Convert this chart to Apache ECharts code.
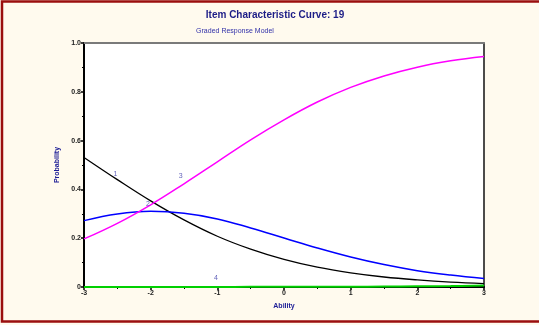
<!DOCTYPE html>
<html>
<head>
<meta charset="utf-8">
<script src="https://cdn.jsdelivr.net/npm/echarts@6/dist/echarts.min.js"></script>
<style>
  html, body { margin: 0; padding: 0; background: #fffaee; }
  #chart { width: 539px; height: 325px; }
</style>
</head>
<body>
<div id="chart"></div>
<script>
// Ability values at which the category probabilities are tabulated
const ability = [-3, -2.5, -2, -1.5, -1, -0.5, 0, 0.5, 1, 1.5, 2, 2.5, 3];

// Category response probabilities (graded response model, item 19)
const cat1 = [0.531, 0.440, 0.353, 0.275, 0.208, 0.155, 0.113, 0.081, 0.058, 0.041, 0.029, 0.020, 0.014];
const cat2 = [0.272, 0.299, 0.310, 0.302, 0.279, 0.242, 0.201, 0.160, 0.123, 0.092, 0.067, 0.049, 0.035];
const cat3 = [0.197, 0.261, 0.337, 0.423, 0.513, 0.603, 0.685, 0.758, 0.818, 0.865, 0.901, 0.927, 0.945];
const cat4 = [0.000, 0.000, 0.000, 0.000, 0.000, 0.001, 0.001, 0.001, 0.001, 0.002, 0.003, 0.004, 0.006];

// Curve tags: [ability, probability, text]
const curveTags = [
  [-2.53, 0.463, '1'],
  [-2.04, 0.338, '2'],
  [-1.55, 0.455, '3'],
  [-1.02, 0.037, '4']
];

const xTicks = [-3, -2, -1, 0, 1, 2, 3];

const FONT = '"Liberation Sans", Arial, sans-serif';
const toPairs = arr => ability.map((a, i) => [a, arr[i]]);

const chart = echarts.init(document.getElementById('chart'), null, { renderer: 'canvas' });

const lineSeries = (data, color, width) => ({
  type: 'line',
  data: toPairs(data),
  smooth: 0.4,
  showSymbol: false,
  symbol: 'none',
  lineStyle: { color: color, width: width },
  z: 3
});

chart.setOption({
  backgroundColor: '#fffaee',
  animation: false,
  title: [
    {
      text: 'Item Characteristic Curve: 19',
      left: 270, top: 5, textAlign: 'center',
      textStyle: { fontFamily: FONT, fontSize: 10, fontWeight: 'bold', color: '#1c1c86' }
    },
    {
      text: 'Graded Response Model',
      left: 230, top: 23, textAlign: 'center',
      textStyle: { fontFamily: FONT, fontSize: 7, fontWeight: 'normal', color: '#3030a8' }
    }
  ],
  graphic: [
    {
      type: 'rect',
      shape: { x: 2, y: 1.5, width: 620, height: 320 },
      style: { fill: null, stroke: '#9a0e0e', lineWidth: 2.5 },
      silent: true, z: 100
    }
  ],
  grid: {
    left: 84, top: 43, right: 55, bottom: 38,
    show: true, backgroundColor: '#ffffff', borderWidth: 0
  },
  xAxis: [
    {
      type: 'value', min: -3, max: 3, interval: 1,
      name: 'Ability', nameLocation: 'middle', nameGap: 16,
      nameTextStyle: { fontFamily: FONT, fontSize: 7, fontWeight: 'bold', color: '#1c1c96' },
      axisLine: { show: true, onZero: false, lineStyle: { color: '#000', width: 2 } },
      axisTick: { show: true, length: 3, lineStyle: { color: '#000', width: 1.5 } },
      minorTick: { show: true, splitNumber: 2, length: 2, lineStyle: { color: '#000', width: 1 } },
      splitLine: { show: false },
      axisLabel: {
        fontFamily: FONT, fontSize: 7, fontWeight: 'bold', color: '#222', margin: 3,
        formatter: v => (xTicks.indexOf(v) >= 0 ? String(v) : '')
      }
    },
    {
      type: 'value', position: 'top', min: -3, max: 3,
      axisLine: { show: true, onZero: false, lineStyle: { color: '#7a7a7a', width: 2 } },
      axisTick: { show: false }, axisLabel: { show: false }, splitLine: { show: false }
    }
  ],
  yAxis: [
    {
      type: 'value', min: 0, max: 1, interval: 0.2,
      name: 'Probability', nameLocation: 'middle', nameGap: 18, nameRotate: 90,
      nameTextStyle: { fontFamily: FONT, fontSize: 7, fontWeight: 'bold', color: '#1c1c96' },
      axisLine: { show: true, onZero: false, lineStyle: { color: '#000', width: 2 } },
      axisTick: { show: true, length: 3, lineStyle: { color: '#000', width: 1.5 } },
      minorTick: { show: true, splitNumber: 2, length: 2, lineStyle: { color: '#000', width: 1 } },
      splitLine: { show: false },
      axisLabel: {
        fontFamily: FONT, fontSize: 7, fontWeight: 'bold', color: '#222', margin: 3,
        formatter: v => (v === 0 ? '0' : v.toFixed(1))
      }
    },
    {
      type: 'value', position: 'right', min: 0, max: 1,
      axisLine: { show: true, onZero: false, lineStyle: { color: '#111', width: 1.5 } },
      axisTick: { show: false }, axisLabel: { show: false }, splitLine: { show: false }
    }
  ],
  series: [
    lineSeries(cat4, '#00d000', 2),
    lineSeries(cat1, '#000000', 1.3),
    lineSeries(cat2, '#0000ff', 1.5),
    lineSeries(cat3, '#ff00ff', 1.5),
    {
      type: 'scatter',
      data: curveTags.map(t => ({ value: [t[0], t[1]], name: t[2] })),
      symbolSize: 0,
      z: 5,
      label: {
        show: true, position: 'inside',
        formatter: p => p.name,
        fontFamily: FONT, fontSize: 7, color: '#3838a8'
      }
    }
  ]
});
</script>
</body>
</html>
